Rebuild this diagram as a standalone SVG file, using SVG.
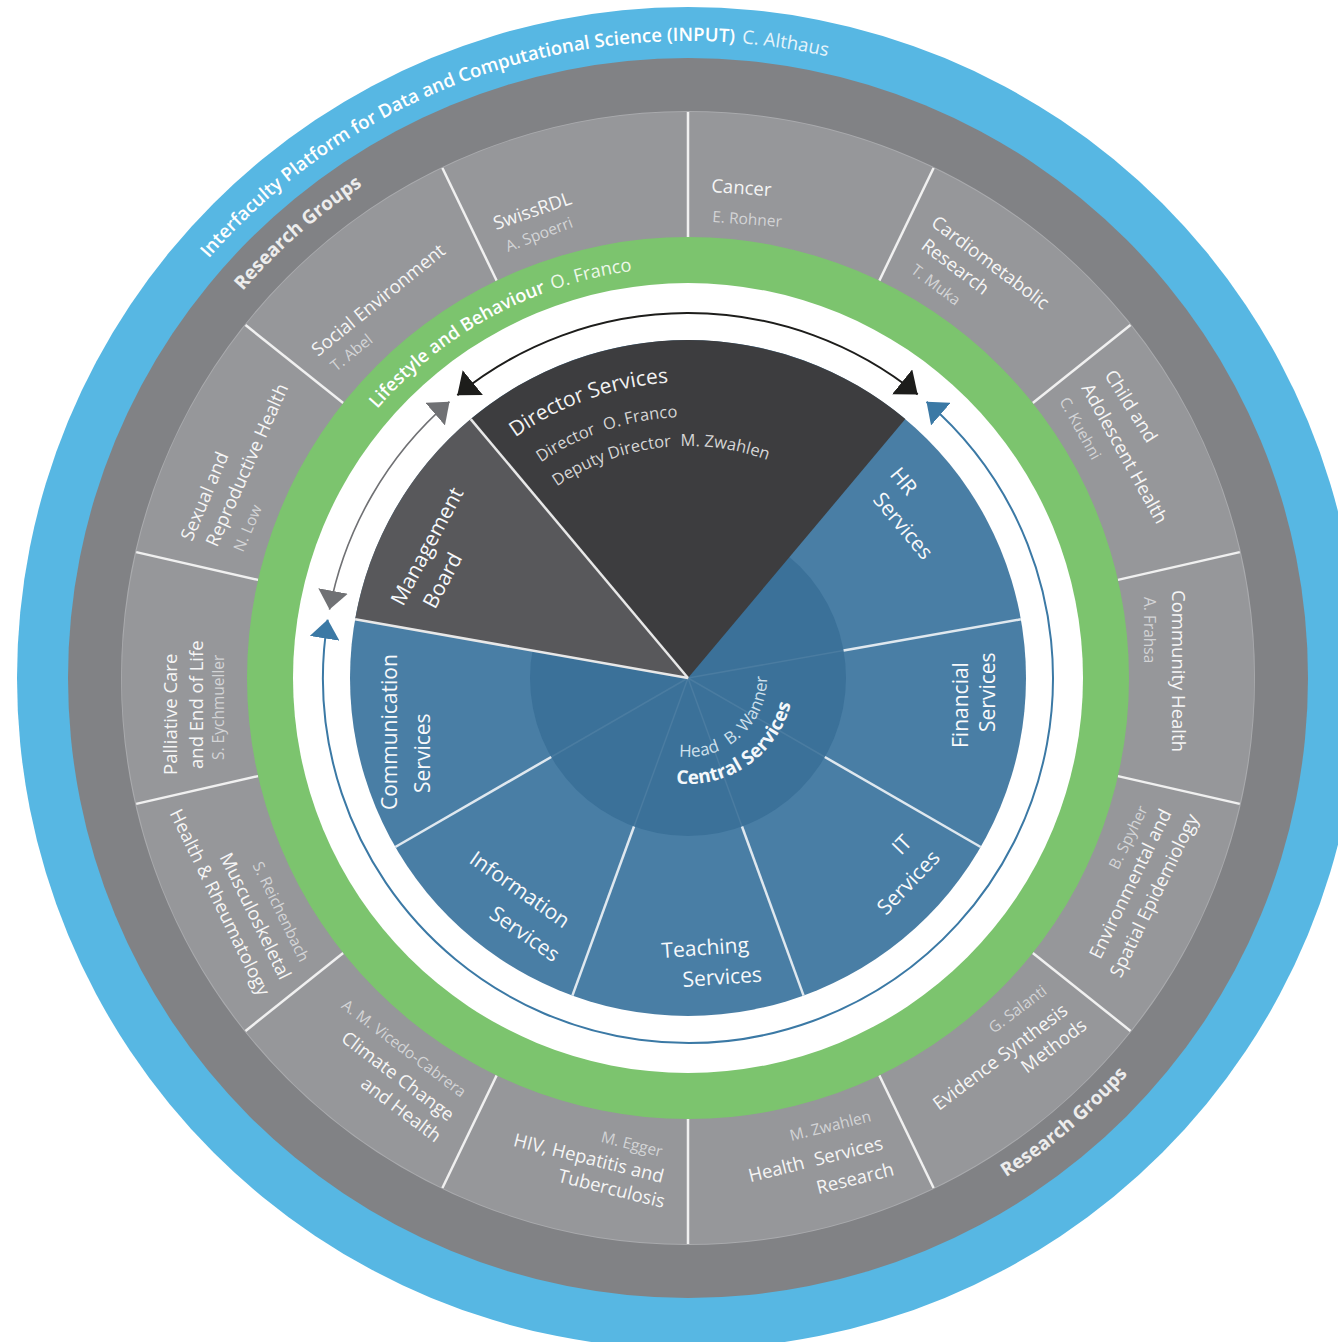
<svg xmlns="http://www.w3.org/2000/svg" width="1338" height="1342" viewBox="0 0 1338 1342">
<defs>
<style>
text{font-family:'Open Sans','Liberation Sans',sans-serif}
.tt{font-size:18.5px;fill:#f5f5f5}
.tn{font-size:15.5px;fill:#d3d4d6}
.tp{font-size:21px;fill:#f7f9fb}
.tr{font-size:18.6px;font-weight:600;fill:#ffffff}
.trg{font-size:19px;font-weight:700;fill:#ececec}
.seg{fill:#96979a}
.sep{stroke:#f0f0f0;stroke-width:2.5}
.wl{stroke:#e8e8e8;stroke-width:2.5}
.bl{stroke:#dfe8ef;stroke-width:2.5}
.fl{stroke:#ffffff;stroke-opacity:0.08;stroke-width:1.5}
</style>
<path id="pInput" d="M208.7,258.4 A637,637 0 0,1 1286.6,460.1"/>
<path id="pRG1" d="M242.7,290.9 A590,590 0 0,1 585.6,97.0"/>
<path id="pRG2" d="M1006.1,1177.3 A592,592 0 0,0 1244.3,880.5"/>
<path id="pLife" d="M377.3,408.9 A411,411 0 0,1 893.5,322.1"/>
<path id="pDir1" d="M515.3,437.6 A296,296 0 0,1 914.7,487.7"/>
<path id="pDir2" d="M540.9,462.4 A261,261 0 0,1 887.9,510.2"/>
<path id="pDir3" d="M556.9,486.6 A232,232 0 0,1 865.7,528.9"/>
<path id="pCS" d="M676.0,783.3 A106,106 0 0,0 787.6,641.7"/>
<path id="pHead" d="M679.1,756.5 A79,79 0 0,0 756.4,638.5"/>
<marker id="ahK" markerUnits="userSpaceOnUse" viewBox="0 0 20 32" markerWidth="20" markerHeight="32" refX="20" refY="16" orient="auto-start-reverse"><path d="M0,0 L20,16 L0,32 z" fill="#1d1d1b"/></marker>
<marker id="ahG" markerUnits="userSpaceOnUse" viewBox="0 0 19 30" markerWidth="19" markerHeight="30" refX="19" refY="15" orient="auto-start-reverse"><path d="M0,0 L19,15 L0,30 z" fill="#707174"/></marker>
<marker id="ahL" markerUnits="userSpaceOnUse" viewBox="0 0 19 30" markerWidth="19" markerHeight="30" refX="19" refY="15" orient="auto-start-reverse"><path d="M0,0 L19,15 L0,30 z" fill="#3b79a5"/></marker>
</defs>
<rect width="1338" height="1342" fill="#ffffff"/>

<g id="input-platform">
<circle cx="688" cy="678" r="671" fill="#57b7e3"/>
<text class="tr"><textPath href="#pInput">Interfaculty Platform for Data and Computational Science (INPUT)<tspan font-weight="400" fill="#e6f4fb" dx="7">C. Althaus</tspan></textPath></text>
</g>

<g id="research-groups-ring">
<circle cx="688" cy="678" r="620" fill="#818285"/>
<circle cx="688" cy="678" r="566" fill="#96979a" stroke="#a9aaad" stroke-width="2"/>
<text class="trg"><textPath href="#pRG1">Research Groups</textPath></text>
<text class="trg"><textPath href="#pRG2">Research Groups</textPath></text>
</g>

<g id="rg-swissrdl">
<path class="seg" d="M688,112 A566,566 0 0,0 442.4,168.0 L496.7,280.7 A441,441 0 0,1 688,237 Z"/>
<text class="tt" transform="translate(496 230) rotate(-19)">SwissRDL</text>
<text class="tn" transform="translate(508 252) rotate(-21)">A. Spoerri</text>
</g>
<g id="rg-social">
<path class="seg" d="M442.4,168.0 A566,566 0 0,0 245.5,325.1 L343.2,403.0 A441,441 0 0,1 496.7,280.7 Z"/>
<text class="tt" transform="translate(318 357) rotate(-39)">Social Environment</text>
<text class="tn" transform="translate(336 372) rotate(-39)">T. Abel</text>
</g>
<g id="rg-sexual">
<path class="seg" d="M245.5,325.1 A566,566 0 0,0 136.2,552.1 L258.1,579.9 A441,441 0 0,1 343.2,403.0 Z"/>
<text class="tt" transform="translate(192 542) rotate(-67)">Sexual and</text>
<text class="tt" transform="translate(217 548) rotate(-66)">Reproductive Health</text>
<text class="tn" transform="translate(243 553) rotate(-67)">N. Low</text>
</g>
<g id="rg-palliative">
<path class="seg" d="M136.2,552.1 A566,566 0 0,0 136.2,803.9 L258.1,776.1 A441,441 0 0,1 258.1,579.9 Z"/>
<text class="tt" transform="translate(177 775) rotate(-90)">Palliative Care</text>
<text class="tt" transform="translate(203 769) rotate(-90)">and End of Life</text>
<text class="tn" transform="translate(224 760) rotate(-90)">S. Eychmueller</text>
</g>
<g id="rg-musculoskeletal">
<path class="seg" d="M136.2,803.9 A566,566 0 0,0 245.5,1030.9 L343.2,953.0 A441,441 0 0,1 258.1,776.1 Z"/>
<text class="tn" text-anchor="end" transform="translate(300 963) rotate(64)">S. Reichenbach</text>
<text class="tt" text-anchor="end" transform="translate(280 981) rotate(64)">Musculoskeletal</text>
<text class="tt" text-anchor="end" transform="translate(259 997) rotate(64)">Health &amp; Rheumatology</text>
</g>
<g id="rg-climate">
<path class="seg" d="M245.5,1030.9 A566,566 0 0,0 442.4,1188.0 L496.7,1075.3 A441,441 0 0,1 343.2,953.0 Z"/>
<text class="tn" text-anchor="end" transform="translate(461 1098) rotate(37)">A. M. Vicedo-Cabrera</text>
<text class="tt" text-anchor="end" transform="translate(448 1122) rotate(37)">Climate Change</text>
<text class="tt" text-anchor="end" transform="translate(435 1143) rotate(37)">and Health</text>
</g>
<g id="rg-hiv">
<path class="seg" d="M442.4,1188.0 A566,566 0 0,0 688,1244 L688,1119 A441,441 0 0,1 496.7,1075.3 Z"/>
<text class="tn" text-anchor="end" transform="translate(661 1157) rotate(14)">M. Egger</text>
<text class="tt" text-anchor="end" transform="translate(662 1183) rotate(14)">HIV, Hepatitis and</text>
<text class="tt" text-anchor="end" transform="translate(663 1208) rotate(14)">Tuberculosis</text>
</g>
<g id="rg-health-services">
<path class="seg" d="M688,1244 A566,566 0 0,0 933.6,1188.0 L879.3,1075.3 A441,441 0 0,1 688,1119 Z"/>
<text class="tn" text-anchor="end" transform="translate(872 1121) rotate(-14)">M. Zwahlen</text>
<text class="tt" text-anchor="end" transform="translate(884 1149) rotate(-14)">Health <tspan dx="6">Services</tspan></text>
<text class="tt" text-anchor="end" transform="translate(895 1175) rotate(-14)">Research</text>
</g>
<g id="rg-evidence">
<path class="seg" d="M933.6,1188.0 A566,566 0 0,0 1130.5,1030.9 L1032.8,953.0 A441,441 0 0,1 879.3,1075.3 Z"/>
<text class="tn" text-anchor="end" transform="translate(1048 993) rotate(-37)">G. Salanti</text>
<text class="tt" text-anchor="end" transform="translate(1069 1013) rotate(-37)">Evidence Synthesis</text>
<text class="tt" text-anchor="end" transform="translate(1088 1028) rotate(-37)">Methods</text>
</g>
<g id="rg-environmental">
<path class="seg" d="M1130.5,1030.9 A566,566 0 0,0 1239.8,803.9 L1117.9,776.1 A441,441 0 0,1 1032.8,953.0 Z"/>
<text class="tn" text-anchor="end" transform="translate(1148 809) rotate(-64)">B. Spyher</text>
<text class="tt" text-anchor="end" transform="translate(1172 813) rotate(-64)">Environmental and</text>
<text class="tt" text-anchor="end" transform="translate(1199 818) rotate(-64)">Spatial Epidemiology</text>
</g>
<g id="rg-community">
<path class="seg" d="M1239.8,803.9 A566,566 0 0,0 1239.8,552.1 L1117.9,579.9 A441,441 0 0,1 1117.9,776.1 Z"/>
<text class="tt" transform="translate(1172 590) rotate(90)">Community Health</text>
<text class="tn" transform="translate(1144 597) rotate(90)">A. Frahsa</text>
</g>
<g id="rg-child">
<path class="seg" d="M1239.8,552.1 A566,566 0 0,0 1130.5,325.1 L1032.8,403.0 A441,441 0 0,1 1117.9,579.9 Z"/>
<text class="tt" transform="translate(1104 375) rotate(58)">Child and</text>
<text class="tt" transform="translate(1081 388) rotate(61)">Adolescent Health</text>
<text class="tn" transform="translate(1059 401) rotate(61)">C. Kuehni</text>
</g>
<g id="rg-cardiometabolic">
<path class="seg" d="M1130.5,325.1 A566,566 0 0,0 933.6,168.0 L879.3,280.7 A441,441 0 0,1 1032.8,403.0 Z"/>
<text class="tt" transform="translate(930 225) rotate(37)">Cardiometabolic</text>
<text class="tt" transform="translate(920 248) rotate(37)">Research</text>
<text class="tn" transform="translate(910 272) rotate(37)">T. Muka</text>
</g>
<g id="rg-cancer">
<path class="seg" d="M933.6,168.0 A566,566 0 0,0 688,112 L688,237 A441,441 0 0,1 879.3,280.7 Z"/>
<text class="tt" transform="translate(711 192) rotate(4)">Cancer</text>
<text class="tn" transform="translate(712 222) rotate(4)">E. Rohner</text>
</g>

<g id="rg-separators">
<line class="sep" x1="688" y1="112" x2="688" y2="237"/>
<line class="sep" x1="442.4" y1="168.0" x2="496.7" y2="280.7"/>
<line class="sep" x1="245.5" y1="325.1" x2="343.2" y2="403.0"/>
<line class="sep" x1="136.2" y1="552.1" x2="258.1" y2="579.9"/>
<line class="sep" x1="136.2" y1="803.9" x2="258.1" y2="776.1"/>
<line class="sep" x1="245.5" y1="1030.9" x2="343.2" y2="953.0"/>
<line class="sep" x1="442.4" y1="1188.0" x2="496.7" y2="1075.3"/>
<line class="sep" x1="688" y1="1244" x2="688" y2="1119"/>
<line class="sep" x1="933.6" y1="1188.0" x2="879.3" y2="1075.3"/>
<line class="sep" x1="1130.5" y1="1030.9" x2="1032.8" y2="953.0"/>
<line class="sep" x1="1239.8" y1="803.9" x2="1117.9" y2="776.1"/>
<line class="sep" x1="1239.8" y1="552.1" x2="1117.9" y2="579.9"/>
<line class="sep" x1="1130.5" y1="325.1" x2="1032.8" y2="403.0"/>
<line class="sep" x1="933.6" y1="168.0" x2="879.3" y2="280.7"/>
</g>

<g id="lifestyle-behaviour">
<circle cx="688" cy="678" r="441" fill="#7cc46e"/>
<circle cx="688" cy="678" r="395" fill="#ffffff"/>
<text font-size="18.3" font-weight="600" fill="#ffffff"><textPath href="#pLife">Lifestyle and Behaviour<tspan font-weight="400" fill="#eef8ea" dx="7">O. Franco</tspan></textPath></text>
</g>

<g id="central-services">
<circle cx="688" cy="678" r="338" fill="#497ea5"/>
<circle cx="688" cy="678" r="158" fill="#3b7199"/>
<line class="fl" x1="688" y1="678" x2="551.2" y2="757"/>
<line class="fl" x1="688" y1="678" x2="634.0" y2="826.5"/>
<line class="fl" x1="688" y1="678" x2="742.0" y2="826.5"/>
<line class="fl" x1="688" y1="678" x2="824.8" y2="757"/>
<line class="fl" x1="688" y1="678" x2="843.6" y2="650.6"/>
<line class="bl" x1="551.2" y1="757" x2="395.3" y2="847"/>
<line class="bl" x1="634.0" y1="826.5" x2="572.4" y2="995.6"/>
<line class="bl" x1="742.0" y1="826.5" x2="803.6" y2="995.6"/>
<line class="bl" x1="824.8" y1="757" x2="980.7" y2="847"/>
<line class="bl" x1="843.6" y1="650.6" x2="1020.9" y2="619.3"/>
<text font-size="19" font-weight="700" fill="#f4f8fb"><textPath href="#pCS">Central Services</textPath></text>
<text font-size="17" fill="#cfe0ec"><textPath href="#pHead">Head <tspan dx="6">B. Wanner</tspan></textPath></text>
</g>

<g id="director-services">
<path d="M688,678 L470.7,419.1 A338,338 0 0,1 905.3,419.1 Z" fill="#3d3d3f"/>
<text font-size="21" fill="#f2f2f2"><textPath href="#pDir1">Director Services</textPath></text>
<text font-size="16.5" fill="#d6d6d6"><textPath href="#pDir2">Director <tspan dx="5">O. Franco</tspan></textPath></text>
<text font-size="16.5" fill="#d6d6d6"><textPath href="#pDir3">Deputy Director <tspan dx="5">M. Zwahlen</tspan></textPath></text>
</g>

<g id="management-board">
<path d="M688,678 L355.1,619.3 A338,338 0 0,1 470.7,419.1 Z" fill="#58585b"/>
<line class="wl" x1="688" y1="678" x2="470.7" y2="419.1"/>
<line class="wl" x1="688" y1="678" x2="355.1" y2="619.3"/>
<text class="tp" transform="translate(403 607) rotate(-62)">Management</text>
<text class="tp" transform="translate(435 610) rotate(-62)">Board</text>
</g>

<g id="hr-services">
<text class="tp" transform="translate(889 475) rotate(50)">HR</text>
<text class="tp" transform="translate(872 500) rotate(50)">Services</text>
</g>
<g id="financial-services">
<text class="tp" transform="translate(968 748) rotate(-90)">Financial</text>
<text class="tp" transform="translate(995 732) rotate(-90)">Services</text>
</g>
<g id="it-services">
<text class="tp" transform="translate(901 856) rotate(-46)">IT</text>
<text class="tp" transform="translate(886 916) rotate(-46)">Services</text>
</g>
<g id="teaching-services">
<text class="tp" transform="translate(662 958) rotate(-4)">Teaching</text>
<text class="tp" transform="translate(683 987) rotate(-4)">Services</text>
</g>
<g id="information-services">
<text class="tp" transform="translate(468 862) rotate(35)">Information</text>
<text class="tp" transform="translate(488 917) rotate(35)">Services</text>
</g>
<g id="communication-services">
<text class="tp" transform="translate(397 810) rotate(-90)">Communication</text>
<text class="tp" transform="translate(430 793) rotate(-90)">Services</text>
</g>

<g id="connectors" fill="none">
<path d="M457.3,395.2 A365,365 0 0,1 917.7,394.4" stroke="#1d1d1b" stroke-width="2" marker-start="url(#ahK)" marker-end="url(#ahK)"/>
<path d="M449.5,401.7 A365,365 0 0,0 329.5,609.6" stroke="#707174" stroke-width="1.6" marker-start="url(#ahG)" marker-end="url(#ahG)"/>
<path d="M327.7,619.6 A365,365 0 1,0 926.5,401.7" stroke="#3b79a5" stroke-width="2" marker-start="url(#ahL)" marker-end="url(#ahL)"/>
</g>
</svg>
